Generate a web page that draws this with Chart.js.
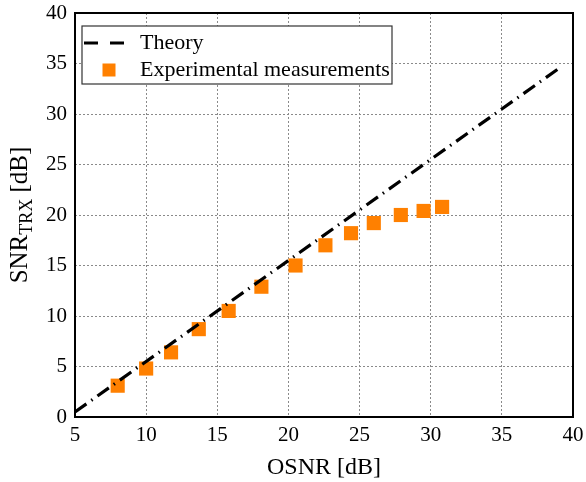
<!DOCTYPE html>
<html lang="en">
<head>
    <meta charset="UTF-8">
    <title>SNR vs OSNR</title>
    <script src="https://cdn.jsdelivr.net/npm/chart.js"></script>
    <style>
        body { margin: 0; background: #fff; }
        #wrap { width: 586px; height: 482px; }
    </style>
</head>
<body>
    <div id="wrap">
        <canvas id="snrChart" width="586" height="482"></canvas>
    </div>
    <script>
        // Data
        const theoryX = [5, 39.2];
        const theoryY = [0.5, 34.7];
        const osnr = [8.0, 10.0, 11.75, 13.7, 15.8, 18.1, 20.5, 22.6, 24.4, 26.0, 27.9, 29.5, 30.8];
        const snrTrx = [3.1, 4.8, 6.4, 8.7, 10.5, 12.9, 15.0, 17.0, 18.2, 19.2, 20.0, 20.4, 20.8];
        const xTicks = [5, 10, 15, 20, 25, 30, 35, 40];
        const yTicks = [0, 5, 10, 15, 20, 25, 30, 35, 40];

        const SERIF = '"Liberation Serif", "DejaVu Serif", serif';
        const ORANGE = '#ff8000';
        const DASH = [14, 6, 1.5, 6];

        const toPoints = (xs, ys) => xs.map((x, i) => ({ x: x, y: ys[i] }));

        // frame, legend and y title with subscript
        const decorations = {
            id: 'decorations',
            afterDraw(chart) {
                const ctx = chart.ctx;
                const a = chart.chartArea;
                ctx.save();

                // box around the plot
                ctx.strokeStyle = '#000';
                ctx.lineWidth = 2;
                ctx.setLineDash([]);
                ctx.strokeRect(a.left, a.top, a.right - a.left, a.bottom - a.top);

                // legend
                ctx.fillStyle = '#fff';
                ctx.fillRect(82, 26, 310, 58);
                ctx.strokeStyle = '#333';
                ctx.lineWidth = 1.2;
                ctx.strokeRect(82, 26, 310, 58);

                ctx.strokeStyle = '#000';
                ctx.lineWidth = 3.2;
                ctx.setLineDash([14, 12]);
                ctx.beginPath();
                ctx.moveTo(84, 43);
                ctx.lineTo(125, 43);
                ctx.stroke();
                ctx.setLineDash([]);

                ctx.fillStyle = ORANGE;
                ctx.fillRect(102.5, 63.5, 13, 13);

                ctx.fillStyle = '#000';
                ctx.font = '22px ' + SERIF;
                ctx.textAlign = 'left';
                ctx.textBaseline = 'middle';
                ctx.fillText('Theory', 140, 43);
                ctx.fillText('Experimental measurements', 140, 70);

                // y axis title
                const main = '25px ' + SERIF;
                const sub = '18px ' + SERIF;
                ctx.translate(19, 215);
                ctx.rotate(-Math.PI / 2);
                ctx.textBaseline = 'alphabetic';
                ctx.font = main;
                const w1 = ctx.measureText('SNR').width;
                const w3 = ctx.measureText(' [dB]').width;
                ctx.font = sub;
                const w2 = ctx.measureText('TRX').width;
                let x0 = -(w1 + w2 + w3) / 2;
                ctx.font = main;
                ctx.fillText('SNR', x0, 8);
                ctx.font = sub;
                ctx.fillText('TRX', x0 + w1, 13);
                ctx.font = main;
                ctx.fillText(' [dB]', x0 + w1 + w2, 8);

                ctx.restore();
            }
        };

        const ctx = document.getElementById('snrChart').getContext('2d');
        new Chart(ctx, {
            type: 'scatter',
            data: {
                datasets: [
                    {
                        label: 'Theory',
                        data: toPoints(theoryX, theoryY),
                        showLine: true,
                        borderColor: '#000',
                        borderWidth: 3.2,
                        borderDash: DASH,
                        pointRadius: 0,
                        fill: false
                    },
                    {
                        label: 'Experimental measurements',
                        data: toPoints(osnr, snrTrx),
                        pointStyle: 'rect',
                        pointRadius: 10,
                        backgroundColor: ORANGE,
                        borderColor: ORANGE,
                        borderWidth: 0
                    }
                ]
            },
            options: {
                responsive: false,
                animation: false,
                layout: { padding: { top: 13, right: 13, left: 0, bottom: 0 } },
                plugins: {
                    legend: { display: false },
                    tooltip: { enabled: false }
                },
                scales: {
                    x: {
                        type: 'linear',
                        min: 5,
                        max: 40,
                        afterBuildTicks: (axis) => { axis.ticks = xTicks.map(v => ({ value: v })); },
                        afterFit: (axis) => {
                            axis.height = 65;
                            axis.paddingLeft = 0;
                            axis.paddingRight = 0;
                        },
                        ticks: {
                            color: '#000',
                            padding: 6,
                            maxRotation: 0,
                            font: { family: SERIF, size: 21 }
                        },
                        grid: { color: '#8a8a8a', lineWidth: 1, drawTicks: false },
                        border: { display: false, dash: [2, 2] },
                        title: {
                            display: true,
                            text: 'OSNR [dB]',
                            color: '#000',
                            padding: { top: 2, bottom: 0 },
                            font: { family: SERIF, size: 24 }
                        }
                    },
                    y: {
                        type: 'linear',
                        min: 0,
                        max: 40,
                        afterBuildTicks: (axis) => { axis.ticks = yTicks.map(v => ({ value: v })); },
                        afterFit: (axis) => {
                            axis.width = 75;
                            axis.paddingTop = 0;
                            axis.paddingBottom = 0;
                        },
                        ticks: {
                            color: '#000',
                            padding: 8,
                            font: { family: SERIF, size: 21 }
                        },
                        grid: { color: '#8a8a8a', lineWidth: 1, drawTicks: false },
                        border: { display: false, dash: [2, 2] }
                    }
                }
            },
            plugins: [decorations]
        });
    </script>
</body>
</html>
